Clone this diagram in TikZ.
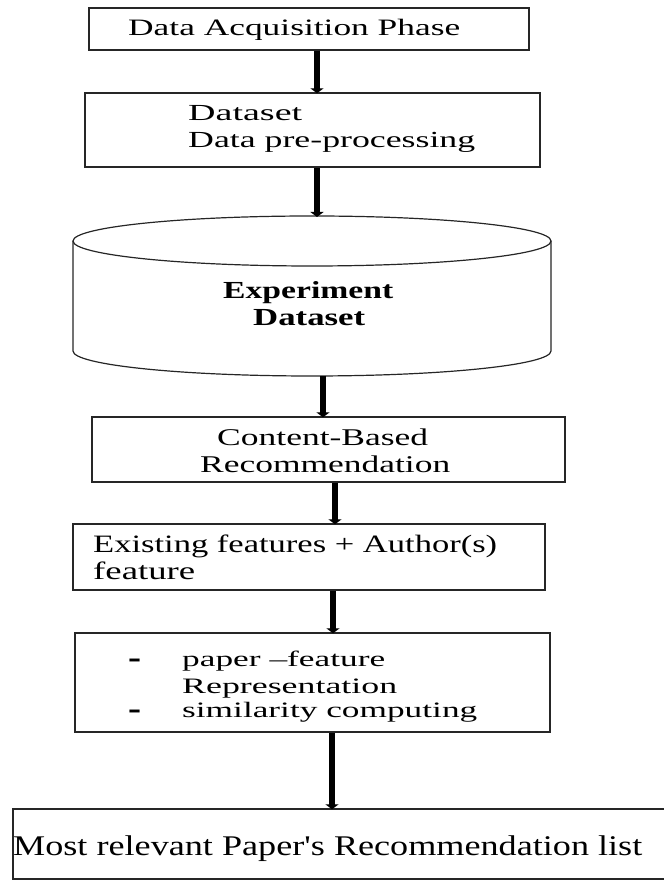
\documentclass[tikz,border=0pt]{standalone}
\usepackage{fontspec}
\setmainfont{Liberation Serif}
\usepackage{graphicx}
\usetikzlibrary{arrows.meta}
\newcommand{\tw}[3]{\resizebox{#2pt}{\height}{\fontsize{#1}{#1}\selectfont #3}}
\newcommand{\sq}{{\addfontfeatures{Ligatures=TeXOff}'}}
\tikzset{
  box/.style={draw=black!85, line width=1.4pt, fill=white, inner sep=0pt},
  conn/.style={line width=6pt, -{Triangle[width=13pt,length=5pt]}, shorten >=-1pt},
  txt/.style={anchor=base west, inner sep=0pt, text=black},
}
\begin{document}
\begin{tikzpicture}[x=1pt, y=1pt]
\useasboundingbox (0,0) rectangle (664,881);
% boxes
\node[box, minimum width=440pt, minimum height=42pt] (b1) at (309,852) {};
\node[box, minimum width=455pt, minimum height=74pt] (b2) at (312.5,751) {};
% cylinder
\coordinate (cyltop) at (312,665);
\coordinate (cylbot) at (312,505);
\draw[black!85, line width=1.2pt, fill=white] (73,640) -- (73,530) arc[start angle=180, end angle=360, x radius=239, y radius=25] -- (551,640);
\draw[black!85, line width=1.2pt] (312,640) ellipse[x radius=239, y radius=25];
\node[box, minimum width=473pt, minimum height=65pt] (b4) at (328.5,431.5) {};
\node[box, minimum width=472pt, minimum height=66pt] (b5) at (309,324) {};
\node[box, minimum width=475pt, minimum height=99pt] (b6) at (312.5,198.5) {};
\node[box, minimum width=655pt, minimum height=70pt] (b7) at (340.5,37) {};
% connector x positions
\coordinate (x1) at (317,0);
\coordinate (x3) at (323,0);
\coordinate (x4) at (335,0);
\coordinate (x5) at (333,0);
\coordinate (x6) at (332,0);
\draw[conn] (b1.south -| x1) -- (b2.north -| x1);
\draw[conn] (b2.south -| x1) -- (cyltop -| x1);
\draw[conn] (cylbot -| x3) -- (b4.north -| x3);
\draw[conn] (b4.south -| x4) -- (b5.north -| x4);
\draw[conn] (b5.south -| x5) -- (b6.north -| x5);
\draw[conn] (b6.south -| x6) -- (b7.north -| x6);
% texts
\node[txt] (t1) at (128,845) {\tw{23.5}{332}{Data Acquisition Phase}};
\node[txt] (t2a) at (188,760) {\tw{23}{114}{Dataset}};
\node[txt] (t2b) at (188,733) {\tw{23}{287}{Data pre-processing}};
\node[txt] (t3a) at (223,582) {\tw{24.5}{170}{\bfseries Experiment}};
\node[txt] (t3b) at (253,555) {\tw{24.5}{112}{\bfseries Dataset}};
\node[txt] (t4a) at (217,435) {\tw{24}{211}{Content-Based}};
\node[txt] (t4b) at (200,408) {\tw{24}{250}{Recommendation}};
\node[txt] (t5a) at (93,328) {\tw{25}{404}{Existing features + Author(s)}};
\node[txt] (t5b) at (93,301) {\tw{25}{102}{feature}};
\node[txt] (d1) at (128,212) {\tw{34}{13}{\bfseries -}};
\node[txt] (t6a) at (182,214) {\tw{22}{203}{paper \textendash feature}};
\node[txt] (t6b) at (182,187) {\tw{22}{215}{Representation}};
\node[txt] (d2) at (128,161) {\tw{34}{13}{\bfseries -}};
\node[txt] (t6c) at (182,163) {\tw{22}{295}{similarity computing}};
\node[txt] (t7) at (13,26) {\tw{28.5}{629}{Most relevant Paper\sq s Recommendation list}};
\end{tikzpicture}
\end{document}
